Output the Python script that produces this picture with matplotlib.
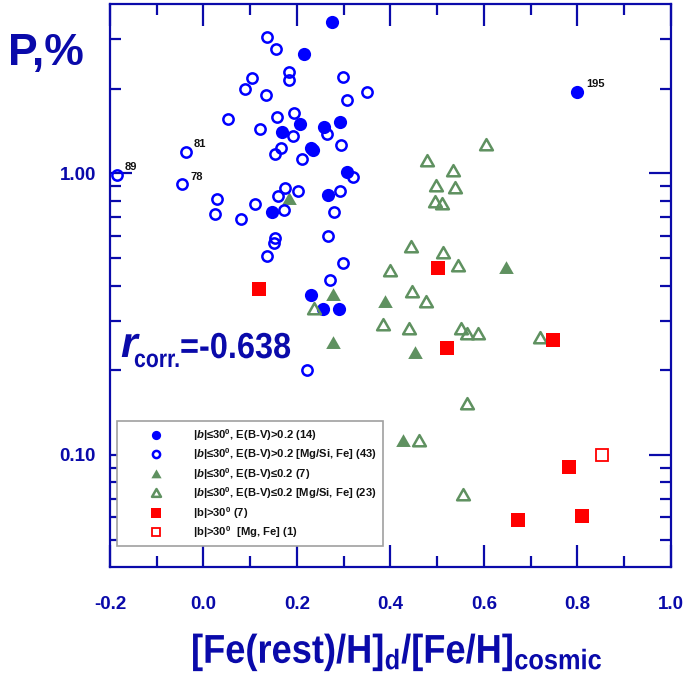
import matplotlib
matplotlib.use("Agg")
import matplotlib.pyplot as plt
from matplotlib.ticker import FixedLocator, NullFormatter, FormatStrFormatter
from matplotlib.textpath import TextPath
from matplotlib.patches import PathPatch
from matplotlib.font_manager import FontProperties
from matplotlib.transforms import Affine2D
from matplotlib.path import Path

# |b|<=30, E(B-V)>0.2
disk_red_x = [0.274, 0.215, 0.168, 0.207, 0.257, 0.292, 0.229, 0.235, 0.307, 0.266,
              0.146, 0.230, 0.256, 0.289, 0.800]
disk_red_y = [3.45, 2.65, 1.40, 1.50, 1.46, 1.52, 1.23, 1.21, 1.01, 0.84,
              0.73, 0.37, 0.33, 0.33, 1.95]
# |b|<=30, E(B-V)>0.2 [Mg/Si, Fe]
disk_red_mg_x = [0.135, 0.155, 0.182, 0.183, 0.103, 0.088, 0.134, 0.299, 0.349, 0.307,
                 0.053, 0.158, 0.194, 0.121, 0.191, 0.265, 0.295, -0.038, 0.166, 0.152,
                 0.211, -0.186, -0.045, 0.319, 0.175, 0.203, 0.159, 0.293, 0.028, 0.110,
                 0.172, 0.025, 0.081, 0.280, 0.267, 0.153, 0.150, 0.137, 0.298, 0.271,
                 0.221]
disk_red_mg_y = [3.05, 2.76, 2.29, 2.14, 2.18, 2.00, 1.90, 2.20, 1.94, 1.82,
                 1.56, 1.59, 1.64, 1.44, 1.36, 1.38, 1.26, 1.19, 1.23, 1.17,
                 1.13, 0.99, 0.915, 0.97, 0.89, 0.87, 0.83, 0.87, 0.81, 0.78,
                 0.74, 0.72, 0.69, 0.73, 0.60, 0.59, 0.565, 0.51, 0.48, 0.42,
                 0.20]
# |b|<=30, E(B-V)<=0.2
disk_clear_x = [0.184, 0.277, 0.277, 0.389, 0.647, 0.452, 0.427]
disk_clear_y = [0.81, 0.37, 0.25, 0.35, 0.46, 0.23, 0.112]
# |b|<=30, E(B-V)<=0.2 [Mg/Si, Fe]
disk_clear_mg_x = [0.237, 0.384, 0.400, 0.605, 0.479, 0.534, 0.497, 0.538, 0.495, 0.510,
                   0.444, 0.513, 0.544, 0.447, 0.477, 0.439, 0.552, 0.564, 0.588, 0.721,
                   0.564, 0.462, 0.556]
disk_clear_mg_y = [0.33, 0.29, 0.45, 1.26, 1.11, 1.02, 0.90, 0.89, 0.79, 0.78,
                   0.55, 0.52, 0.47, 0.38, 0.35, 0.28, 0.28, 0.27, 0.27, 0.26,
                   0.152, 0.112, 0.072]
# |b|>30
halo_x = [0.119, 0.501, 0.522, 0.748, 0.783, 0.672, 0.809]
halo_y = [0.39, 0.46, 0.24, 0.257, 0.0905, 0.0586, 0.0605]
# |b|>30 [Mg, Fe]
halo_mg_x = [0.853]
halo_mg_y = [0.100]

star_ids = ["195", "81", "78", "89"]
star_x = [0.800, -0.038, -0.045, -0.186]
star_y = [1.95, 1.19, 0.915, 0.99]

r_corr = -0.638

plt.rcParams["font.family"] = ["Liberation Sans", "DejaVu Sans"]
plt.rcParams["mathtext.fontset"] = "custom"
plt.rcParams["mathtext.rm"] = "Liberation Sans:bold"
plt.rcParams["mathtext.it"] = "Liberation Sans:italic:bold"
plt.rcParams["mathtext.bf"] = "Liberation Sans:bold"

navy = "#0a0aaa"
blue = "#0000ff"
green = "#5f9160"
red = "#ff0000"

fig = plt.figure(figsize=(6.86, 6.81), dpi=100)
ax = fig.add_axes([0.1603, 0.1674, 0.8177, 0.8267])


def path_text(s, x, y, size, squeeze=1.0, style="normal", ha="left"):
    # bold text drawn as a path so it can be narrowed; x, y in pixels from top-left, y = baseline
    fp = FontProperties(family="Liberation Sans", weight="bold", style=style)
    tp = TextPath((0, 0), s, size=size, prop=fp)
    k = fig.dpi / 72.0
    ext = tp.get_extents()
    if ha == "center":
        x -= (ext.x0 + ext.x1) / 2 * squeeze * k
    tr = Affine2D().scale(squeeze * k, k).translate(x, fig.bbox.height - y)
    fig.add_artist(PathPatch(tp, transform=tr, facecolor=navy, edgecolor="none"))


tri = Path([(-1, -0.75), (1, -0.75), (0, 1.0), (-1, -0.75)],
           [Path.MOVETO, Path.LINETO, Path.LINETO, Path.CLOSEPOLY])

ax.plot(disk_red_x, disk_red_y, "o", color=blue, ms=9.5, mew=0,
        label=r"|$b$|≤30$^{0}$, E(B-V)>0.2 (14)", clip_on=False, zorder=3)
ax.plot(disk_red_mg_x, disk_red_mg_y, "o", mfc="none", mec=blue, ms=7.4, mew=1.8,
        label=r"|$b$|≤30$^{0}$, E(B-V)>0.2 [Mg/Si, Fe] (43)", clip_on=False, zorder=4)
ax.plot(disk_clear_x, disk_clear_y, marker=tri, ls="none", color=green, ms=10.5, mew=0,
        label=r"|$b$|≤30$^{0}$, E(B-V)≤0.2 (7)", zorder=3)
ax.plot(disk_clear_mg_x, disk_clear_mg_y, marker=tri, ls="none", mfc="none", mec=green,
        ms=9.2, mew=1.8, label=r"|$b$|≤30$^{0}$, E(B-V)≤0.2 [Mg/Si, Fe] (23)", zorder=3)
ax.plot(halo_x, halo_y, "s", color=red, ms=10, mew=0,
        label=r"|b|>30$^{0}$ (7)", zorder=3)
ax.plot(halo_mg_x, halo_mg_y, "s", mfc="none", mec=red, ms=9, mew=1.3,
        label=r"|b|>30$^{0}$  [Mg, Fe] (1)", zorder=3)

for sid, sx, sy in zip(star_ids, star_x, star_y):
    ax.annotate(sid, (sx, sy), xytext=(6, 2), textcoords="offset points",
                fontsize=8, fontweight="bold", color="#111111", ha="left", va="bottom")

ax.set_yscale("log")
ax.set_xlim(-0.2, 1.0)
ax.set_ylim(0.04, 4.0)

ax.xaxis.set_major_locator(FixedLocator([-0.2, 0.0, 0.2, 0.4, 0.6, 0.8, 1.0]))
ax.xaxis.set_minor_locator(FixedLocator([-0.1, 0.1, 0.3, 0.5, 0.7, 0.9]))
ax.xaxis.set_major_formatter(FormatStrFormatter("%.1f"))
ax.yaxis.set_major_locator(FixedLocator([0.1, 1.0]))
ax.yaxis.set_minor_locator(FixedLocator([0.05, 0.06, 0.07, 0.08, 0.09,
                                         0.2, 0.3, 0.4, 0.5, 0.6, 0.7, 0.8, 0.9,
                                         2, 3]))
ax.yaxis.set_major_formatter(FormatStrFormatter("%.2f"))
ax.yaxis.set_minor_formatter(NullFormatter())

for side in ax.spines.values():
    side.set_color(navy)
    side.set_linewidth(1.6)

ax.tick_params(which="both", direction="in", color=navy, width=1.6,
               top=True, right=True)
ax.tick_params(which="major", length=16)
ax.tick_params(which="minor", length=8)
ax.tick_params(axis="x", which="major", pad=21, labelsize=13.5, labelcolor=navy)
ax.tick_params(axis="y", which="major", pad=10, labelsize=13.5, labelcolor=navy)
for lab in ax.get_xticklabels() + ax.get_yticklabels():
    lab.set_fontweight("bold")

# axis titles and correlation coefficient
path_text(r"[Fe(rest)/H]$_{\mathrm{d}}$/[Fe/H]$_{\mathrm{cosmic}}$", 397, 663, 29,
          squeeze=0.9, ha="center")
fig.text(0.012, 0.905, "P,%", fontsize=32, fontweight="bold", color=navy,
         ha="left", va="baseline")
path_text("r", 121, 357, 31, style="italic")
path_text("corr.", 134, 367, 18, squeeze=0.85)
path_text(f"={r_corr:.3f}", 180, 358, 26, squeeze=0.9)

leg = ax.legend(loc="upper left", bbox_to_anchor=(0.0125, 0.259), borderaxespad=0,
                prop={"weight": "bold", "size": 8.1},
                handlelength=5.9, handletextpad=0.4, labelspacing=0.33,
                borderpad=0.5, markerscale=0.7, fancybox=False, framealpha=1)
leg.get_frame().set_edgecolor("#a0a0a0")
leg.get_frame().set_linewidth(1.2)
for t in leg.get_texts():
    t.set_color("#111111")

fig.savefig("out.png", dpi=100)
